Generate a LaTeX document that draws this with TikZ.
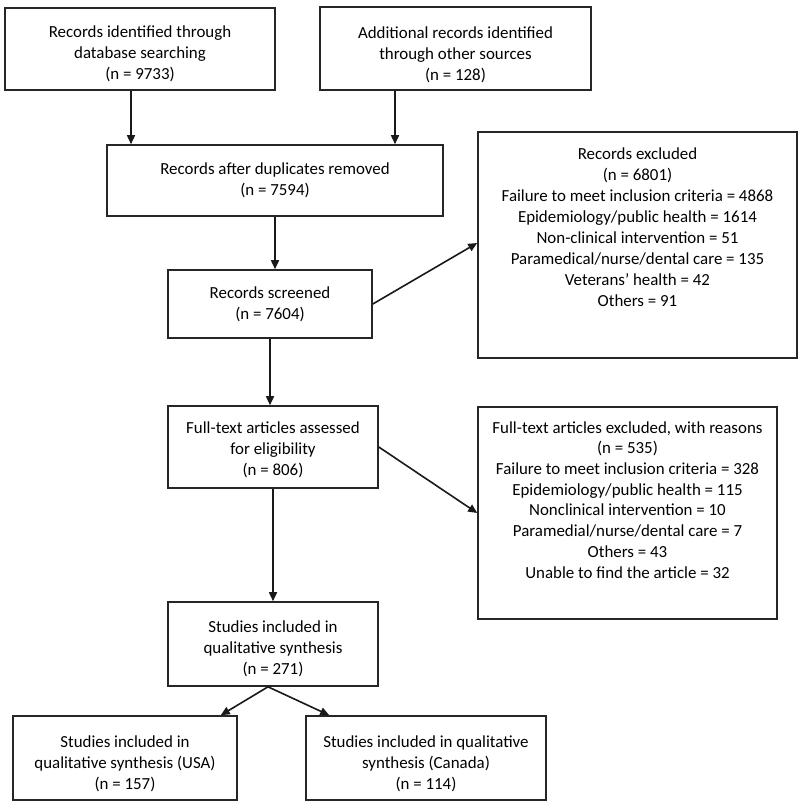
\documentclass[tikz,border=0pt]{standalone}
\usepackage{fontspec}
\setmainfont{Carlito}
\usetikzlibrary{arrows.meta,calc}
\begin{document}
\begin{tikzpicture}[x=1pt,y=-1pt,
  box/.style={draw=black!85, line width=1.6pt, align=center, inner sep=0pt,
    font=\fontsize{16.9}{21}\selectfont},
  txt/.style={align=center, inner sep=0pt, font=\fontsize{16.9}{21}\selectfont},
  arr/.style={draw=black!90, line width=1.6pt, -{Triangle[length=9pt,width=8pt]}}]
\useasboundingbox (0,0) rectangle (800,809);
\fill[white] (0,0) rectangle (800,809);
% boxes
\node[box, minimum width=270pt, minimum height=82pt,
  label={[txt,yshift=-5pt]center:{Records identified through\\database searching\\(n = 9733)}}] (b1) at (140,49) {};
\node[box, minimum width=271pt, minimum height=83pt,
  label={[txt,yshift=-6pt]center:{Additional records identified\\through other sources\\(n = 128)}}] (b2) at (455.5,48.5) {};
\node[box, minimum width=336pt, minimum height=71pt] (b3) at (275,180.5)
  {Records after duplicates removed\\(n = 7594)};
\node[box, minimum width=204pt, minimum height=68pt] (b4) at (270,304)
  {Records screened\\(n = 7604)};
\node[box, minimum width=210pt, minimum height=82pt,
  label={[txt,yshift=-3pt]center:{Full-text articles assessed\\for eligibility\\(n = 806)}}] (b5) at (273,447) {};
\node[box, minimum width=319pt, minimum height=226pt] (r1) at (637.5,245) {};
\node[txt, anchor=north] (r1t) at ([yshift=-16pt]r1.north)
  {Records excluded\\(n = 6801)\\Failure to meet inclusion criteria = 4868\\Epidemiology/public health = 1614\\Non-clinical intervention = 51\\Paramedical/nurse/dental care = 135\\Veterans’ health = 42\\Others = 91};
\node[box, minimum width=299pt, minimum height=212pt] (r2) at (627.5,513) {};
\node[txt, anchor=north, font=\fontsize{16.9}{20.7}\selectfont] (r2t) at ([yshift=-15pt]r2.north)
  {Full-text articles excluded, with reasons\\(n = 535)\\Failure to meet inclusion criteria = 328\\Epidemiology/public health = 115\\Nonclinical intervention = 10\\Paramedial/nurse/dental care = 7\\Others = 43\\Unable to find the article = 32};
\node[box, minimum width=210pt, minimum height=84pt,
  label={[txt,yshift=-5pt]center:{Studies included in\\qualitative synthesis\\(n = 271)}}] (b6) at (273,644) {};
\node[box, minimum width=224pt, minimum height=84pt,
  label={[txt,yshift=-6pt]center:{Studies included in\\qualitative synthesis (USA)\\(n = 157)}}] (b7) at (125,758) {};
\node[box, minimum width=240pt, minimum height=84pt,
  label={[txt,yshift=-6pt]center:{Studies included in qualitative\\synthesis (Canada)\\(n = 114)}}] (b8) at (426,758) {};
% connectors
\draw[arr] ([xshift=-9pt]b1.south) -- ([xshift=-9pt]b1.south |- b3.north);
\draw[arr] ([xshift=-60.5pt]b2.south) -- ([xshift=-60.5pt]b2.south |- b3.north);
\draw[arr] (b3.south) -- (b3.south |- b4.north);
\draw[arr] (b4.south) -- (b4.south |- b5.north);
\draw[arr] (b5.south) -- (b6.north);
\draw[arr] (b4.east) -- ([yshift=2pt]r1.west);
\draw[arr] (b5.east) -- (r2.west);
\draw[arr] ([xshift=-5pt]b6.south) -- ([xshift=-17pt]b7.north east);
\draw[arr] ([xshift=-5pt]b6.south) -- ([xshift=24pt]b8.north west);
\end{tikzpicture}
\end{document}
